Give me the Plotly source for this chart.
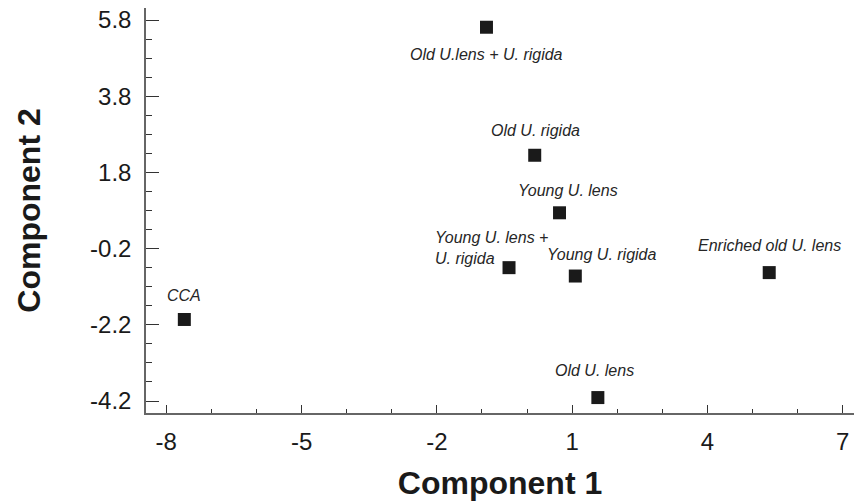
import plotly.graph_objects as go

labels = ["Old U.lens + U. rigida", "Old U. rigida", "Young U. lens",
          "Young U. lens +<br>U. rigida", "Young U. rigida",
          "Enriched old U. lens", "CCA", "Old U. lens"]
comp1 = [-0.90, 0.17, 0.72, -0.40, 1.07, 5.37, -7.60, 1.57]
comp2 = [5.61, 2.25, 0.74, -0.70, -0.92, -0.83, -2.06, -4.11]

# label offsets in pixels (style)
offsets = [(0, -27), (1, 25), (8, 22), (-18, 20), (27, 22), (0, 27), (0, 24), (-3, 27)]
aligns = ["center", "center", "center", "left", "center", "center", "center", "center"]

x_ticks = [-8, -5, -2, 1, 4, 7]
y_ticks = [-4.2, -2.2, -0.2, 1.8, 3.8, 5.8]

FONT = "Liberation Sans, Arial"

fig = go.Figure()
fig.add_trace(go.Scatter(
    x=comp1, y=comp2, mode="markers",
    marker=dict(symbol="square", size=13, color="#1a1a1a"),
    showlegend=False, hoverinfo="skip", cliponaxis=False))

for lab, x, y, (dx, dy), al in zip(labels, comp1, comp2, offsets, aligns):
    fig.add_annotation(x=x, y=y, text=lab, showarrow=False,
                       xshift=dx, yshift=dy, align=al,
                       font=dict(family=FONT, size=16, color="#262626", style="italic"))

axis_common = dict(showgrid=False, zeroline=False, showline=True, automargin=False,
                   linecolor="#666", linewidth=1.5, ticks="inside",
                   tickcolor="#333", tickwidth=1.2, ticklabeloverflow="allow",
                   tickfont=dict(family=FONT, size=24, color="#1a1a1a"))

fig.update_xaxes(range=[-8.45, 7.25], tickvals=x_ticks, ticktext=[str(v) for v in x_ticks],
                 ticklen=8, ticklabelstandoff=6,
                 minor=dict(dtick=1, tick0=-8, ticklen=4, ticks="inside", tickcolor="#333", tickwidth=1),
                 title=dict(text="<b>Component 1</b>", standoff=27,
                            font=dict(family=FONT, size=32, color="#1a1a1a")),
                 **axis_common)
fig.update_yaxes(range=[-4.515, 6.115], tickvals=y_ticks, ticktext=[f"{v:.1f}" for v in y_ticks],
                 ticklen=13, ticklabelstandoff=8,
                 minor=dict(dtick=0.5, tick0=-4.2, ticklen=6, ticks="inside", tickcolor="#333", tickwidth=1),
                 title=dict(text="<b>Component 2</b>", standoff=40,
                            font=dict(family=FONT, size=32, color="#1a1a1a")),
                 **axis_common)

fig.update_layout(width=854, height=501, plot_bgcolor="white", paper_bgcolor="white",
                  margin=dict(l=146, r=0, t=8, b=88))
fig.write_html("out.html", config={"displayModeBar": False},
               post_script="document.body.style.margin='0';document.body.style.overflow='hidden';")
